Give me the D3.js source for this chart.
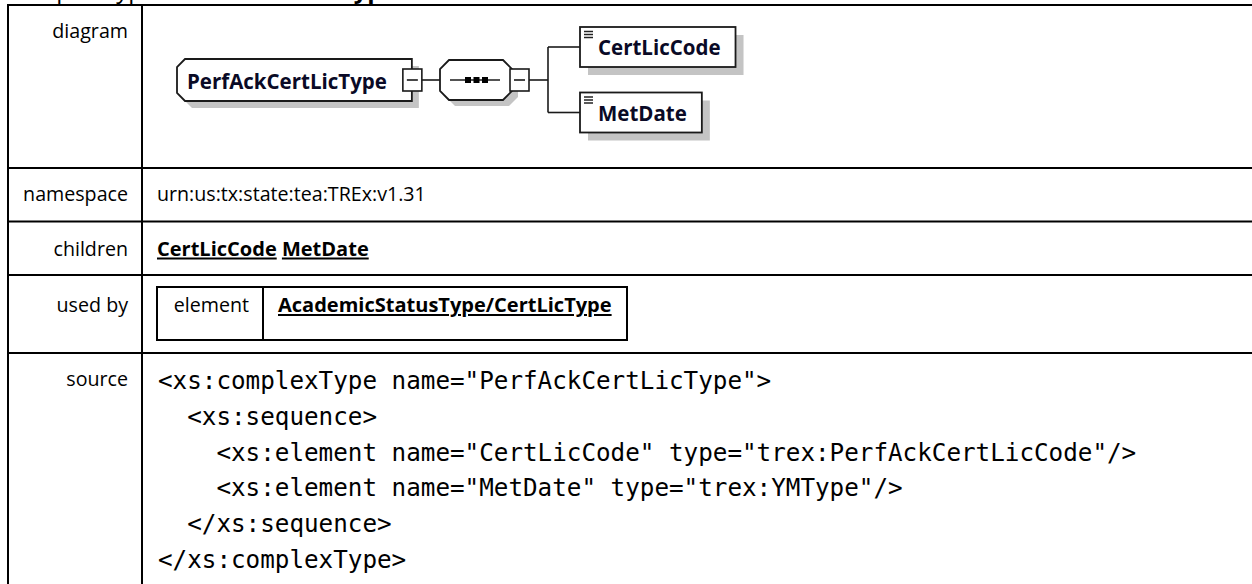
<!DOCTYPE html>
<html><head><meta charset="utf-8">
<script src="https://cdn.jsdelivr.net/npm/d3@7"></script>
<style>html,body{margin:0;padding:0;background:#fff;overflow:hidden}</style>
</head><body>
<svg id="c" width="1252" height="584" xmlns="http://www.w3.org/2000/svg"></svg>
<script>
// ---------- data ----------
const titleParts = ["complexType ", "PerfAckCertLicType"];
const rowLabels = ["diagram", "namespace", "children", "used by", "source"];
const typeName = ["PerfAckCertLicType"];
const childElements = ["CertLicCode", "MetDate"];
const namespaceValue = ["urn:us:tx:state:tea:TREx:v1.31"];
const usedByKinds = ["element"];
const usedByRefs = ["AcademicStatusType/CertLicType"];
const sourceLines = [
  '<xs:complexType name="PerfAckCertLicType">',
  '  <xs:sequence>',
  '    <xs:element name="CertLicCode" type="trex:PerfAckCertLicCode"/>',
  '    <xs:element name="MetDate" type="trex:YMType"/>',
  '  </xs:sequence>',
  '</xs:complexType>'
];

// ---------- layout ----------
const W = 1252, H = 584;
const svg = d3.select("#c");
const SANS = "'Open Sans', 'Noto Sans', sans-serif";
const MONO = "'DejaVu Sans Mono', 'Liberation Mono', monospace";
const INK = "#000";
const DIAG_INK = "#0a0a26";

function measure(txt, family, weight, size) {
  const t = svg.append("text").attr("font-family", family).attr("font-weight", weight)
    .attr("font-size", size).style("white-space", "pre").text(txt);
  const w = t.node().getComputedTextLength(); t.remove(); return w;
}
function fit(txt, family, weight, target) { return 100 * target / measure(txt, family, weight, 100); }

const labelSize = fit("namespace", SANS, 400, 105);
const linkSize = fit("AcademicStatusType/CertLicType", SANS, 700, 334);
const diagSize = fit(typeName[0], SANS, 700, 200);
const codeSize = fit("M".repeat(20), MONO, 400, 20 * 14.6);

// table geometry
const xLeft = 8, xDiv = 142, xContent = 157, xLabelRight = 128;
const rowTop = d3.scaleOrdinal().domain(rowLabels).range([5, 168, 221.5, 275, 353]);
const labelBase = d3.scaleOrdinal().domain(rowLabels).range([38, 201, 255.5, 312, 386]);

// ---------- title (cut off at top, as in the reference) ----------
const title = svg.append("text").attr("x", xLeft).attr("y", -2.5)
  .attr("font-family", SANS).attr("font-size", 24).attr("fill", INK).style("white-space", "pre");
title.append("tspan").text(titleParts[0]);
title.append("tspan").attr("font-weight", 700).text(titleParts[1]);

// ---------- table lines ----------
const g = svg.append("g").attr("stroke", INK).attr("stroke-width", 2).attr("fill", "none");
rowLabels.forEach(r => {
  g.append("line").attr("x1", xLeft).attr("x2", W + 5).attr("y1", rowTop(r)).attr("y2", rowTop(r));
});
g.append("line").attr("x1", xLeft).attr("x2", xLeft).attr("y1", rowTop("diagram") - 1).attr("y2", H + 5);
g.append("line").attr("x1", xDiv).attr("x2", xDiv).attr("y1", rowTop("diagram")).attr("y2", H + 5);

// ---------- row labels ----------
svg.append("g").selectAll("text").data(rowLabels).join("text")
  .attr("x", xLabelRight).attr("y", d => labelBase(d))
  .attr("text-anchor", "end").attr("font-family", SANS).attr("font-size", labelSize)
  .attr("fill", INK).text(d => d);

// ---------- namespace ----------
svg.append("text").attr("x", xContent).attr("y", labelBase("namespace"))
  .attr("font-family", SANS).attr("font-size", labelSize).attr("fill", INK).text(namespaceValue[0]);

// ---------- children ----------
let cx = xContent;
const spaceW = measure("a a", SANS, 700, linkSize) - measure("aa", SANS, 700, linkSize);
childElements.forEach(c => {
  svg.append("text").attr("x", cx).attr("y", labelBase("children"))
    .attr("font-family", SANS).attr("font-weight", 700).attr("font-size", linkSize)
    .attr("fill", INK).style("text-decoration", "underline").text(c);
  cx += measure(c, SANS, 700, linkSize) + spaceW;
});

// ---------- used by inner table ----------
const ubTop = 287, ubBottom = 340, ubDiv = 263, ubRight = 627;
const ub = svg.append("g").attr("stroke", INK).attr("stroke-width", 2).attr("fill", "none");
ub.append("rect").attr("x", xContent).attr("y", ubTop).attr("width", ubRight - xContent).attr("height", ubBottom - ubTop);
ub.append("line").attr("x1", ubDiv).attr("x2", ubDiv).attr("y1", ubTop).attr("y2", ubBottom);
svg.append("text").attr("x", ubDiv - 14).attr("y", labelBase("used by")).attr("text-anchor", "end")
  .attr("font-family", SANS).attr("font-size", labelSize).attr("fill", INK).text(usedByKinds[0]);
svg.append("text").attr("x", ubDiv + 15).attr("y", labelBase("used by"))
  .attr("font-family", SANS).attr("font-weight", 700).attr("font-size", linkSize)
  .attr("fill", INK).style("text-decoration", "underline").text(usedByRefs[0]);

// ---------- source ----------
const codeY = d3.scaleLinear().domain([0, sourceLines.length - 1]).range([389, 389 + 5 * 35.8]);
svg.append("g").selectAll("text").data(sourceLines).join("text")
  .attr("x", 158).attr("y", (d, i) => codeY(i))
  .attr("font-family", MONO).attr("font-size", codeSize).attr("fill", INK)
  .style("white-space", "pre").text(d => d);

// ---------- diagram ----------
const SH = "#c4c4c4", STROKE = "#1a1a1a";
const dg = svg.append("g");
const cy = 80;
function octPath(x0, y0, x1, y1, cl, cr) {
  return `M${x0 + cl},${y0} L${x1 - cr},${y0} L${x1},${y0 + cr} L${x1},${y1 - cr} L${x1 - cr},${y1} L${x0 + cl},${y1} L${x0},${y1 - cl} L${x0},${y0 + cl} Z`;
}
function minusBox(x, y, w, h) {
  dg.append("rect").attr("x", x).attr("y", y).attr("width", w).attr("height", h)
    .attr("fill", "#fff").attr("stroke", STROKE).attr("stroke-width", 1.6);
  dg.append("line").attr("x1", x + 4).attr("x2", x + w - 4).attr("y1", y + h / 2).attr("y2", y + h / 2)
    .attr("stroke", STROKE).attr("stroke-width", 1.6);
}
// type box
const tW = measure(typeName[0], SANS, 700, diagSize);
const tx0 = 177, tx1 = tx0 + 10 + tW + 25, ty0 = cy - 21, ty1 = cy + 21;
dg.append("path").attr("d", octPath(tx0 + 7, ty0 + 7, tx1 + 7, ty1 + 7, 8, 0)).attr("fill", SH);
dg.append("path").attr("d", octPath(tx0, ty0, tx1, ty1, 8, 0)).attr("fill", "#fff").attr("stroke", STROKE).attr("stroke-width", 1.8);
dg.append("text").attr("x", tx0 + 10).attr("y", cy + 8.5).attr("font-family", SANS).attr("font-weight", 700)
  .attr("font-size", diagSize).attr("fill", DIAG_INK).text(typeName[0]);
minusBox(tx1 - 9, cy - 11, 19, 22);
// connector to sequence
const sx0 = 440, sx1 = 512, sy0 = cy - 20, sy1 = cy + 20;
dg.append("line").attr("x1", tx1 + 10).attr("x2", sx0).attr("y1", cy).attr("y2", cy).attr("stroke", STROKE).attr("stroke-width", 1.6);
dg.append("path").attr("d", octPath(sx0 + 6, sy0 + 6, sx1 + 6, sy1 + 6, 9, 9)).attr("fill", SH);
dg.append("path").attr("d", octPath(sx0, sy0, sx1, sy1, 9, 9)).attr("fill", "#fff").attr("stroke", STROKE).attr("stroke-width", 1.8);
dg.append("line").attr("x1", sx0 + 10).attr("x2", sx1 - 12).attr("y1", cy).attr("y2", cy).attr("stroke", STROKE).attr("stroke-width", 1.6);
[0, 1, 2].forEach(i => dg.append("rect").attr("x", 465 + i * 8.5).attr("y", cy - 3).attr("width", 6).attr("height", 6).attr("fill", "#000"));
minusBox(sx1 - 2, cy - 11, 19, 22);
// fan-out to children
const childY = d3.scalePoint().domain(childElements).range([47, 112.5]);
const fx = 548, bx = 580;
dg.append("line").attr("x1", sx1 + 17).attr("x2", fx).attr("y1", cy).attr("y2", cy).attr("stroke", STROKE).attr("stroke-width", 1.6);
dg.append("line").attr("x1", fx).attr("x2", fx).attr("y1", childY(childElements[0])).attr("y2", childY(childElements[1])).attr("stroke", STROKE).attr("stroke-width", 1.6);
childElements.forEach(c => {
  const y = childY(c), w = measure(c, SANS, 700, diagSize) + 33, h = 40;
  dg.append("line").attr("x1", fx).attr("x2", bx).attr("y1", y).attr("y2", y).attr("stroke", STROKE).attr("stroke-width", 1.6);
  dg.append("rect").attr("x", bx + 8).attr("y", y - h / 2 + 8).attr("width", w).attr("height", h).attr("fill", SH);
  dg.append("rect").attr("x", bx).attr("y", y - h / 2).attr("width", w).attr("height", h)
    .attr("fill", "#fff").attr("stroke", STROKE).attr("stroke-width", 1.8);
  [0, 1, 2].forEach(k => dg.append("line").attr("x1", bx + 4).attr("x2", bx + 13)
    .attr("y1", y - h / 2 + 4.5 + k * 3).attr("y2", y - h / 2 + 4.5 + k * 3).attr("stroke", "#222").attr("stroke-width", 1.5));
  dg.append("text").attr("x", bx + 18).attr("y", y + 8).attr("font-family", SANS).attr("font-weight", 700)
    .attr("font-size", diagSize).attr("fill", DIAG_INK).text(c);
});
</script>
</body></html>
